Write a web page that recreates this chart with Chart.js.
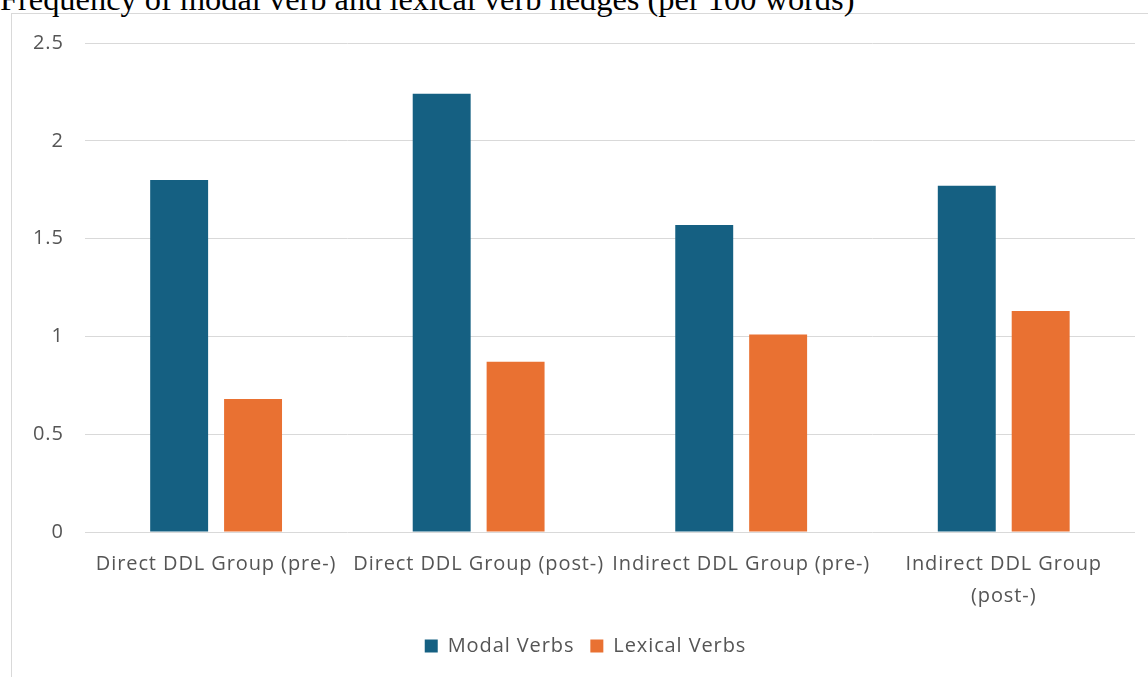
<!DOCTYPE html>
<html>
<head>
<meta charset="utf-8">
<script src="https://cdn.jsdelivr.net/npm/chart.js@4"></script>
<style>
  html, body { margin: 0; padding: 0; background: #ffffff; overflow: hidden; }
  #wrap { position: relative; width: 1148px; height: 677px; }
  #frame { position: absolute; left: 11px; top: 13px; width: 1160px; height: 700px;
           border: 1px solid #d9d9d9; box-sizing: border-box; }
  #title { position: absolute; left: 0; top: -17px; margin: 0; white-space: nowrap;
           font-family: "Liberation Serif", "Times New Roman", serif; font-size: 32.4px;
           line-height: 32px; font-weight: normal; color: #000000; }
  #chart { position: absolute; left: 0; top: 0; }
</style>
</head>
<body>
<div id="wrap">
  <div id="frame"></div>
  <h1 id="title">Frequency of modal verb and lexical verb hedges (per 100 words)</h1>
  <canvas id="chart" width="1148" height="677"></canvas>
</div>
<script>
// Groups compared
const categories = [
  "Direct DDL Group (pre-)",
  "Direct DDL Group (post-)",
  "Indirect DDL Group (pre-)",
  ["Indirect DDL Group", "(post-)"]
];

// Hedges per 100 words
const modalVerbs = [1.80, 2.24, 1.57, 1.77];
const lexicalVerbs = [0.68, 0.87, 1.01, 1.13];

const seriesNames = ["Modal Verbs", "Lexical Verbs"];
const yTicks = [0, 0.5, 1, 1.5, 2, 2.5];

const labelFont = { family: "'Open Sans', 'Noto Sans', sans-serif", size: 20 };
const textColor = "#555555";

// Slightly looser tracking for all chart text
const trackingPlugin = {
  id: "tracking",
  beforeInit(chart) { chart.ctx.letterSpacing = "0.9px"; },
  beforeLayout(chart) { chart.ctx.letterSpacing = "0.9px"; },
  beforeDraw(chart) { chart.ctx.letterSpacing = "0.9px"; }
};

// The legend is centred on the whole frame, which runs a little past the right edge
const legendShift = {
  id: "legendShift",
  afterLayout(chart) {
    chart.legend.left += 12;
    chart.legend.right += 12;
  }
};

new Chart(document.getElementById("chart"), {
  type: "bar",
  plugins: [trackingPlugin, legendShift],
  data: {
    labels: categories,
    datasets: [
      { label: seriesNames[0], data: modalVerbs, backgroundColor: "#156082",
        categoryPercentage: 0.563, barPercentage: 0.784 },
      { label: seriesNames[1], data: lexicalVerbs, backgroundColor: "#e97132",
        categoryPercentage: 0.563, barPercentage: 0.784 }
    ]
  },
  options: {
    responsive: false,
    animation: false,
    layout: { padding: { left: 12, right: 13, top: 43, bottom: 11 } },
    plugins: {
      title: { display: false },
      tooltip: { enabled: false },
      legend: {
        position: "bottom",
        labels: {
          color: textColor,
          font: labelFont,
          boxWidth: 13,
          boxHeight: 13,
          padding: 16
        }
      }
    },
    scales: {
      x: {
        grid: { display: false },
        border: { display: false },
        ticks: {
          color: textColor,
          font: { ...labelFont, lineHeight: 1.6 },
          maxRotation: 0,
          minRotation: 0,
          autoSkip: false,
          padding: 8
        }
      },
      y: {
        min: 0,
        max: 2.5,
        afterBuildTicks: (axis) => { axis.ticks = yTicks.map(v => ({ value: v })); },
        grid: { color: "#d9d9d9", lineWidth: 1, drawTicks: false },
        border: { display: false },
        ticks: {
          color: textColor,
          font: labelFont,
          padding: 21,
          callback: (v) => String(v)
        }
      }
    }
  }
});
</script>
</body>
</html>
